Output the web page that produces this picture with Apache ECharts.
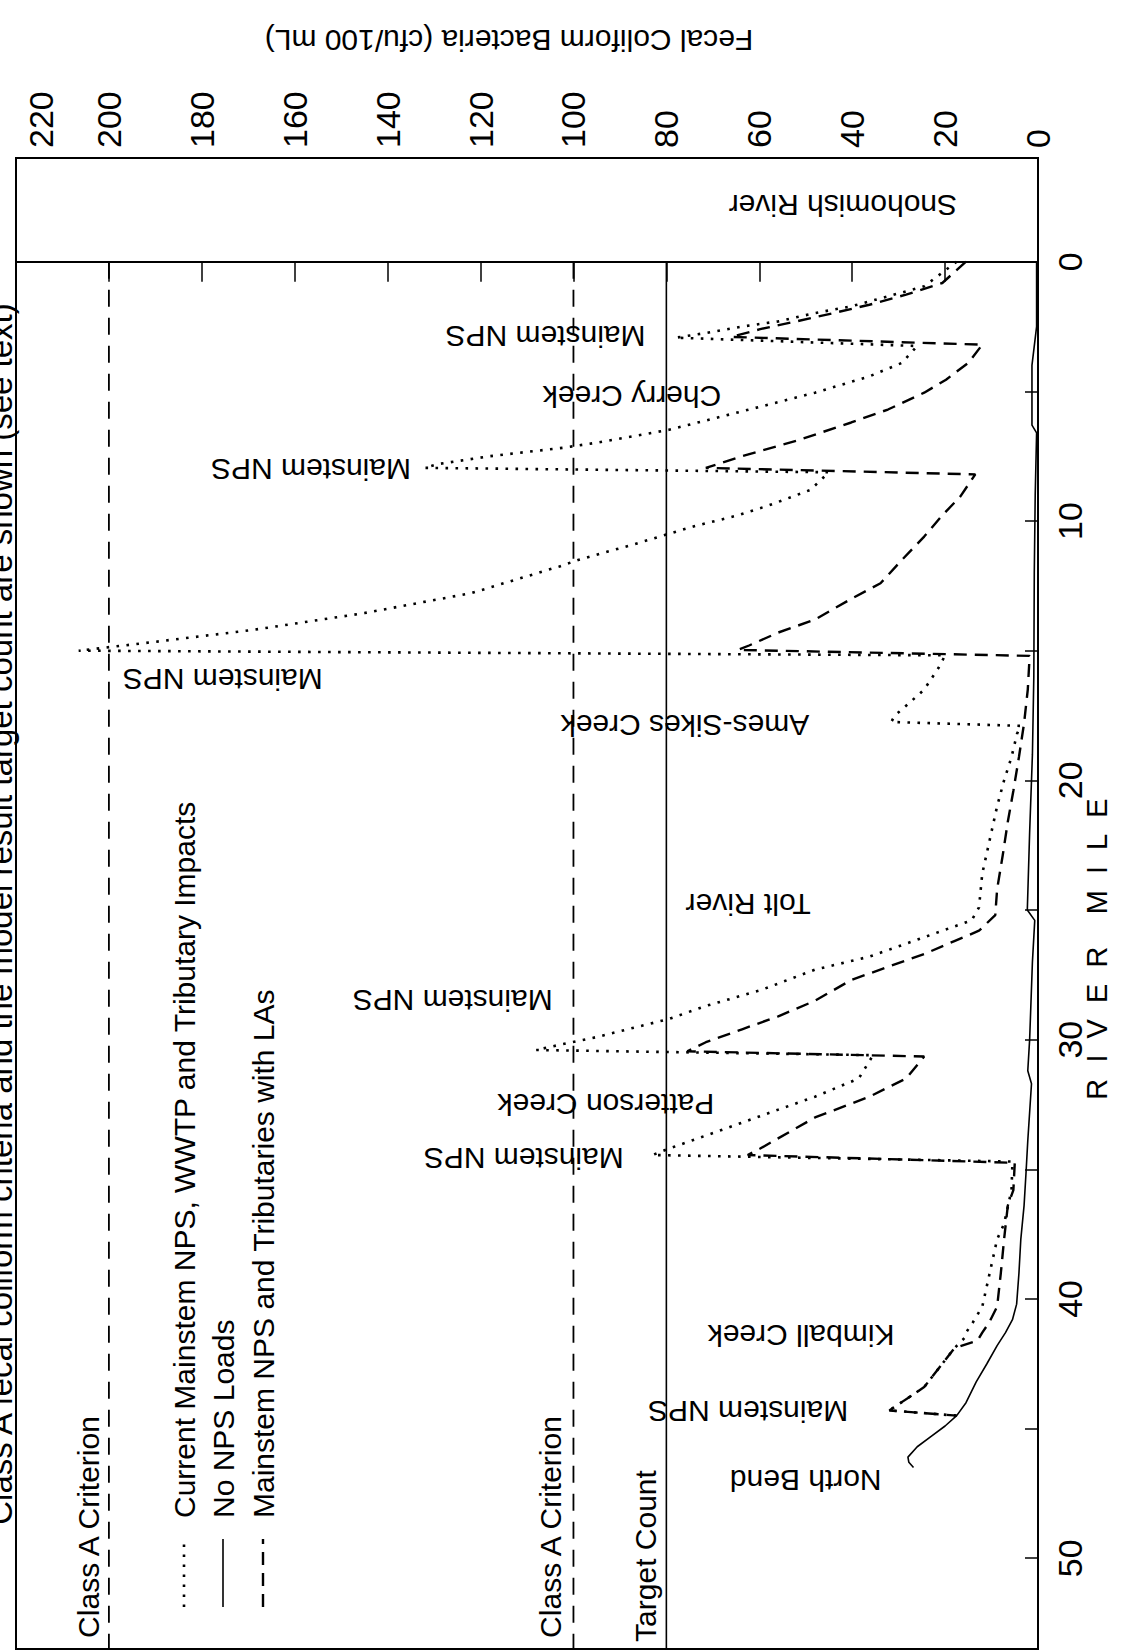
<!DOCTYPE html>
<html>
<head>
<meta charset="utf-8">
<script src="https://cdn.jsdelivr.net/npm/echarts@6/dist/echarts.min.js"></script>
<style>
html,body{margin:0;padding:0;background:#fff;}
#chart{width:1131px;height:1652px;}
</style>
</head>
<body>
<div id="chart"></div>
<script>
const FONT = '"Liberation Sans", Arial, Helvetica, sans-serif';

// ---- axis ticks ----
const fcTicks = [0, 20, 40, 60, 80, 100, 120, 140, 160, 180, 200, 220];
const mileLabels = [0, 10, 20, 30, 40, 50];
const mileTicks = [0, 5, 10, 15, 20, 25, 30, 35, 40, 45, 50];
const mileRange = [-4, 53.5];

// ---- profiles: [river mile, fecal coliform cfu/100 mL] ----
const currentImpacts = [
  [0,17.5],[0.95,24.5],[1.34,32.4],[1.72,40.2],[1.98,48],[2.3,55.9],[2.5,63.7],[2.75,71.5],[2.93,78],
  [3.25,26],[3.9,29.3],[4.42,36.3],[5.05,48],[5.77,63.7],[6.48,79.4],[6.98,95],[7.17,102],[7.5,118],[7.8,129],[7.95,132],
  [8.12,45],[8.8,49],[9.4,58],[9.8,65],[10.2,74],[10.9,87],[11.5,99],[11.75,103],[12.78,122],[13.55,145],[14.2,169],[14.7,192],[15.0,206.5],
  [15.18,20],[15.66,21.4],[16.5,24.5],[17.0,27.6],[17.5,30.8],[17.75,31.6],
  [17.9,3.7],[18.2,4.5],[19.1,5.7],[20,7.3],[21,8.8],[22.3,10.4],[23.6,12],[24.9,12.7],[25.4,14.3],[25.8,20.6],[26.3,28.4],[26.8,36.3],[27.3,48],[28.1,59.8],[28.7,71.5],[29.2,79.4],[29.9,95],[30.2,103],[30.4,108],
  [30.6,35.5],[31.5,38.6],[32.2,48],[32.7,55.9],[33.2,63.7],[33.7,71.5],[34.2,79.4],[34.45,83],
  [34.7,5.5],[35.8,5.7],[37.1,7.3],[37.7,8.8],[39,10.4],[40.3,12],[40.9,14],[41.3,15.5],[41.5,15.8],[41.9,18],[43.4,24.5],[44.3,32],[44.5,17.5]
];
const noNpsLoads = [
  [0,0.3],[2.5,0.3],[4,1.3],[6.3,1.3],[6.6,0.3],[9,0.6],[12,0.8],[16,0.9],[19,1.2],[22,1.8],[25,2.3],[25.4,0.7],
  [27,1.2],[30,1.8],[31.2,2.2],[31.7,1.4],[33.9,2.2],[35.2,2.6],[36.4,3],[37.7,3.7],[39,4.1],[40.2,4.6],[40.8,5.5],
  [41.3,7],[41.8,8.8],[42.5,11],[43.2,13.3],[44,15.5],[44.5,17.5],[44.9,20],[45.3,23],[45.7,26],[46.1,28],[46.3,27.8],[46.5,26.8]
];
const withLAs = [
  [0,15.5],[0.82,20.6],[1.27,28.4],[1.66,36.3],[1.98,44],[2.3,52],[2.6,59.8],[2.9,66],
  [3.2,12],[3.9,15],[4.55,19.8],[5.05,24.5],[5.7,32.3],[6.2,40.2],[6.9,51.9],[7.5,63.7],[7.95,71.5],
  [8.2,13.5],[9.05,16.7],[9.8,20.7],[10.6,24.5],[11.5,29.3],[12.4,33.9],[13,40.2],[13.8,48],[14.3,55.9],[14.8,62.2],[14.97,64.6],
  [15.2,1.8],[16.5,2.2],[17.8,3],[19.1,4.1],[20.4,5.3],[21.6,6.5],[22.9,7.6],[24.2,8.8],[25.2,9.2],[25.8,12.7],[26.2,18],[26.7,24.5],[27.2,32.4],[27.7,40.2],[28.5,48],[29.1,55.9],[29.6,63.7],[30.1,71.5],[30.45,75.5],
  [30.65,24.5],[31.5,28.4],[32.2,36.3],[33,48],[34.2,59.8],[34.45,62.5],
  [34.75,5],[35.8,5.3],[36.4,6.5],[37.7,7.3],[39,8],[40.3,8.8],[40.9,10.5],[41.3,12],[41.6,13],[41.9,18],[43.4,24.5],[44.3,32],[44.5,17.5]
];
const classACriteria = [200, 100];
const targetCount = 80;

// ---- in-plot site names and their anchor [fc, mile] ----
const siteNames = ['Snohomish River','Mainstem NPS','Cherry Creek','Mainstem NPS','Mainstem NPS','Ames-Sikes Creek',
  'Tolt River','Mainstem NPS','Patterson Creek','Mainstem NPS','Kimball Creek','Mainstem NPS','North Bend'];
const siteAnchors = [[42,-2.15],[106,2.9],[87.4,5.2],[156.5,8.0],[175.5,16.1],[76,17.9],
  [62.4,24.8],[126,28.5],[93,32.5],[110.7,34.6],[51,41.4],[62.4,44.35],[50,47.0]];

const legendNames = ['Current Mainstem NPS, WWTP and Tributary Impacts','No NPS Loads','Mainstem NPS and Tributaries with LAs'];

const toXY = arr => arr.map(p => [p[1], p[0]]);

const chart = echarts.init(document.getElementById('chart'), null, {renderer: 'svg'});

const legendX = [184, 223, 263];
const legendDash = [[2.6, 7.4], null, [13, 8]];
const legendWidth = [2.6, 1.6, 2.4];
const graphics = [];
legendNames.forEach((n, i) => {
  graphics.push({type: 'line', shape: {x1: legendX[i], y1: 1607, x2: legendX[i], y2: 1539},
    style: {stroke: '#000', lineWidth: legendWidth[i], lineDash: legendDash[i] || null}});
  graphics.push({type: 'text', x: legendX[i], y: 1518, rotation: Math.PI / 2,
    style: {text: n, font: '30px ' + FONT, fill: '#000', textAlign: 'left', textVerticalAlign: 'middle', align: 'left', verticalAlign: 'middle'}});
});
function rotText(text, x, y, rot, size, align) {
  return {type: 'text', x: x, y: y, rotation: rot,
    style: {text: text, font: size + 'px ' + FONT, fill: '#000', textAlign: align || 'center', textVerticalAlign: 'middle', align: align || 'center', verticalAlign: 'middle'}};
}
graphics.push(rotText('Fecal Coliform Bacteria (cfu/100 mL)', 509, 40, Math.PI, 30));
graphics.push(rotText('R\u00a0\u00a0I\u00a0\u00a0V\u00a0\u00a0E\u00a0\u00a0R\u00a0\u00a0\u00a0\u00a0M\u00a0\u00a0I\u00a0\u00a0L\u00a0\u00a0E', 1097, 949, Math.PI / 2, 29));
graphics.push(rotText('Class A Criterion', 88, 1527, Math.PI / 2, 30));
graphics.push(rotText('Class A Criterion', 550, 1527, Math.PI / 2, 30));
graphics.push(rotText('Target Count', 645, 1556, Math.PI / 2, 30));
graphics.push(rotText('Class A fecal coliform criteria and the model result target count are shown (see text)', 0, 914, Math.PI / 2, 33));

const refSeries = classACriteria.map(v => ({
  type: 'line', symbol: 'none', silent: true,
  data: [[v, 0], [v, mileRange[1]]],
  lineStyle: {color: '#000', width: 1.8, type: [17, 11]}
}));

const option = {
  animation: false,
  backgroundColor: '#fff',
  grid: {left: 16, right: 93, top: 158, bottom: 3, show: true, borderColor: '#000', borderWidth: 2, outerBoundsMode: 'none', containLabel: false},
  xAxis: {
    type: 'value', position: 'top', inverse: true, min: fcTicks[0], max: fcTicks[fcTicks.length - 1], interval: 20,
    axisLine: {show: false},
    splitLine: {show: false},
    axisTick: {show: true, inside: true, length: 20, lineStyle: {color: '#000', width: 1.5}},
    axisLabel: {
      show: true, rotate: 90, margin: 10, fontSize: 34, fontFamily: FONT, color: '#000', showMinLabel: true, showMaxLabel: true,
      formatter: v => (v === fcTicks[fcTicks.length - 1] ? '{edge|' + v + '}' : String(v)),
      rich: {edge: {fontSize: 34, fontFamily: FONT, color: '#000', padding: [50, 0, 0, 0]}}
    }
  },
  yAxis: {
    type: 'value', position: 'right', inverse: true, min: mileRange[0], max: mileRange[1],
    axisLine: {show: false},
    splitLine: {show: false},
    axisTick: {show: true, inside: true, length: 13, customValues: mileTicks, lineStyle: {color: '#000', width: 1.5}},
    axisLabel: {show: true, rotate: 90, margin: 15, fontSize: 34, fontFamily: FONT, color: '#000', customValues: mileLabels}
  },
  graphic: graphics,
  series: [
    ...refSeries,
    {
      type: 'line', symbol: 'none', silent: true,
      data: [[targetCount, 0], [targetCount, mileRange[1]]],
      lineStyle: {color: '#000', width: 1.6},
      markLine: {silent: true, symbol: 'none', label: {show: false}, lineStyle: {color: '#000', width: 2, type: 'solid'}, data: [{yAxis: 0}]}
    },
    {name: legendNames[1], type: 'line', symbol: 'none', data: toXY(noNpsLoads), lineStyle: {color: '#000', width: 1.6}},
    {name: legendNames[0], type: 'line', symbol: 'none', data: toXY(currentImpacts), lineStyle: {color: '#000', width: 2.6, type: [2.6, 7.4]}},
    {name: legendNames[2], type: 'line', symbol: 'none', data: toXY(withLAs), lineStyle: {color: '#000', width: 2.4, type: [13, 8]}},
    {
      type: 'scatter', symbolSize: 1, itemStyle: {color: 'rgba(0,0,0,0)'}, silent: true,
      labelLayout: {hideOverlap: false},
      data: siteNames.map((n, i) => ({name: n, value: siteAnchors[i]})),
      label: {show: true, position: 'inside', formatter: p => p.name, rotate: 180, fontSize: 30, fontFamily: FONT, color: '#000', opacity: 1}
    }
  ]
};
chart.setOption(option);
</script>
</body>
</html>
